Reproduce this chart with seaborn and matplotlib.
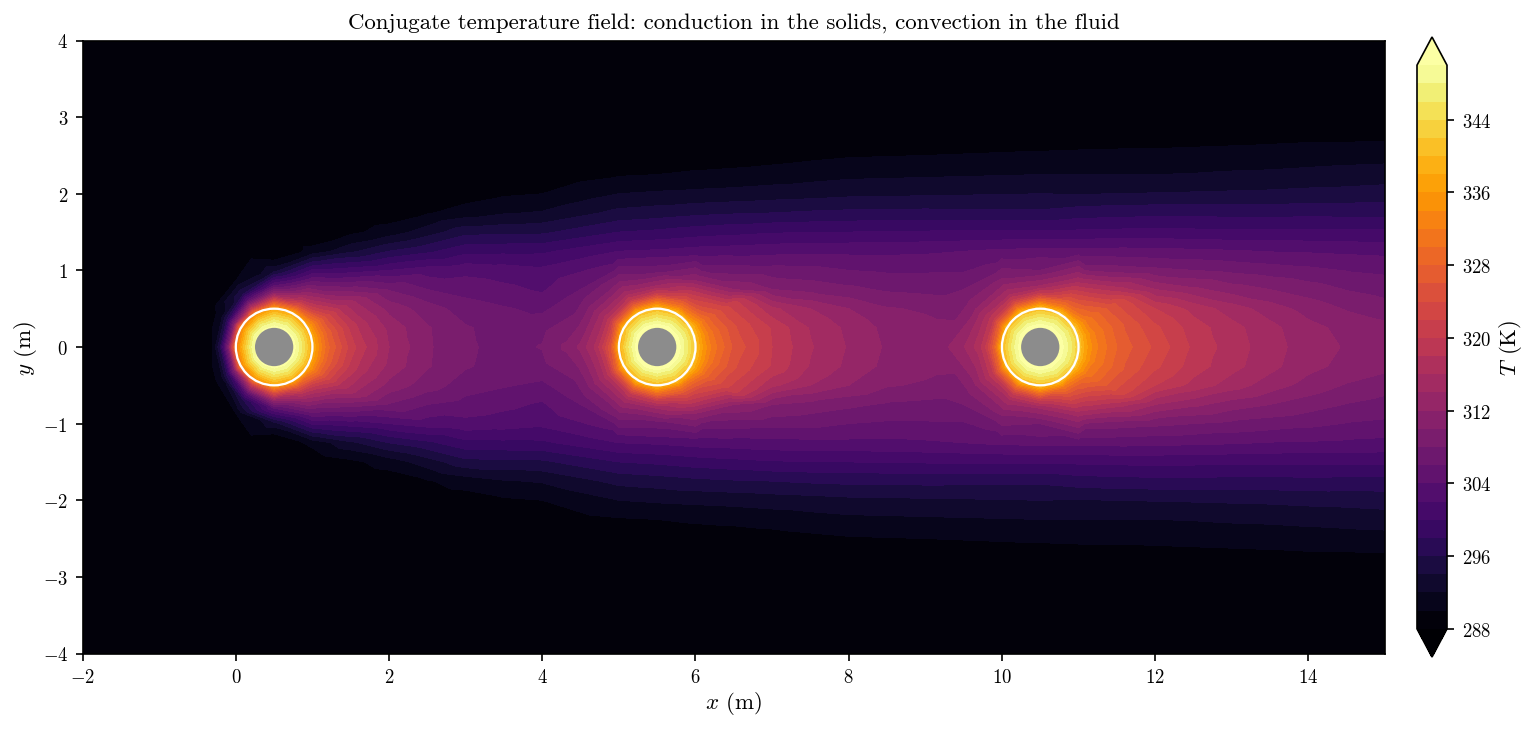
import numpy as np
import matplotlib
matplotlib.use("Agg")
import matplotlib.pyplot as plt
from matplotlib.patches import Circle
import seaborn as sns

# ── Data ──────────────────────────────────────────────────────────────────────
nan = np.nan
levels = list(range(288, 351, 2))
cbar_ticks = [288, 296, 304, 312, 320, 328, 336, 344]
x_ticks = [-2, 0, 2, 4, 6, 8, 10, 12, 14]
y_ticks = [-4, -3, -2, -1, 0, 1, 2, 3, 4]
centres = [0.5, 5.5, 10.5]
r_solid = 0.25
r_ring = 0.5

# far field, upper half (it is mirrored in y)
grid_y = [0, .25, .5, .75, 1, 1.25, 1.5, 1.75, 2, 2.25, 2.5, 2.75, 3, 4]
grid_x = [-2, -1, -.5, 0, .5, 1, 1.5, 2, 2.5, 3, 3.5, 4, 4.5, 5, 5.5, 6, 6.5, 7, 7.5, 8, 8.5,
          9, 9.5, 10, 10.5, 11, 11.5, 12, 12.5, 13, 13.5, 14, 14.5, 15]
T_m2 = [288, 288, 288, 288, 288, 288, 288, 288, 288, 288, 288, 288, 288, 288]
T_m1 = [288, 288, 288, 288, 288, 288, 288, 288, 288, 288, 288, 288, 288, 288]
T_m05 = [nan, nan, nan, 288, 288, 288, 288, 288, 288, 288, 288, 288, 288, 288]
T_0 = [nan, nan, nan, nan, nan, 288, 288, 288, 288, 288, 288, 288, 288, 288]
T_05 = [nan, nan, nan, nan, nan, 288.2, 288, 288, 288, 288, 288, 288, 288, 288]
T_1 = [nan, nan, nan, nan, nan, 290.6, 288.4, 288, 288, 288, 288, 288, 288, 288]
T_15 = [nan, nan, nan, 309, 301, 293.5, 289.5, 288.3, 288, 288, 288, 288, 288, 288]
T_2 = [314, 313.4, 311.3, 307.8, 302, 296, 290.9, 288.8, 288.2, 288, 288, 288, 288, 288]
T_25 = [310.3, 310.2, 309, 306, 303, 297.5, 293, 289.8, 288.7, 288.2, 288, 288, 288, 288]
T_3 = [308.3, 308.2, 307, 305.2, 303.4, 299.4, 295.3, 290.9, 289, 288.3, 288, 288, 288, 288]
T_35 = [307.4, 307.2, 306.2, 304.5, 303, 299.5, 295.5, 291.8, 289.7, 288.7, 288, 288, 288, 288]
T_4 = [308.1, 307.5, 305.5, 303.7, 302.5, 299.6, 295.6, 292.2, 290, 288.8, 288.2, 288, 288, 288]
T_45 = [nan, nan, nan, 306, 303.8, 300.8, 296.8, 293.4, 291, 289.4, 288.4, 288, 288, 288]
T_5 = [nan, nan, nan, nan, nan, 302, 298, 294.6, 292, 289.8, 288.6, 288, 288, 288]
T_55 = [nan, nan, nan, nan, nan, 302.3, 298.4, 295, 292.3, 290, 288.7, 288.1, 288, 288]
T_6 = [nan, nan, nan, nan, nan, 302.8, 299, 295.5, 292.5, 290.3, 288.9, 288.2, 288, 288]
T_65 = [nan, nan, nan, 312, 307, 303, 299.4, 295.8, 292.7, 290.5, 289, 288.3, 288, 288]
T_7 = [320, 319.7, 316.5, 310, 306.8, 303.3, 299.8, 296, 293, 290.8, 289.2, 288.4, 288, 288]
T_75 = [316.2, 315.8, 314, 309.3, 306.6, 303.4, 299.9, 296.3, 293.2, 291.2, 289.5, 288.5, 288, 288]
T_8 = [313.8, 313.5, 312, 308.5, 306, 303.5, 300, 296.5, 293.5, 291.5, 289.8, 288.6, 288, 288]
T_85 = [311.7, 311.4, 310.2, 307.7, 305.7, 303.5, 300.1, 296.5, 293.6, 291.6, 289.9, 288.7, 288.2, 288]
T_9 = [311, 310.7, 309.7, 307.4, 305.7, 303.7, 300.2, 296.6, 293.7, 291.7, 290, 288.8, 288.3, 288]
T_95 = [nan, nan, nan, 308, 305.8, 304, 300.3, 296.5, 293.8, 291.8, 290.1, 288.8, 288.3, 288]
T_10 = [nan, nan, nan, nan, nan, 304.4, 300.3, 296.5, 293.9, 291.9, 290.2, 288.9, 288.3, 288]
T_105 = [nan, nan, nan, nan, nan, 304.6, 300.4, 296.5, 294, 292, 290.3, 288.9, 288.3, 288]
T_11 = [nan, nan, nan, nan, nan, 304.7, 300.4, 297, 293.9, 292, 290.4, 289, 288.4, 288]
T_115 = [nan, nan, nan, 317, 309, 304.7, 300.5, 297.2, 294, 292, 290.5, 289, 288.4, 288]
T_12 = [323.5, 322.5, 320, 314, 308.5, 304.6, 300.6, 297.4, 294.1, 292, 290.5, 289.1, 288.4, 288]
T_125 = [319.6, 319, 317.3, 312.5, 308, 304.4, 300.5, 297.4, 294.2, 292.1, 290.6, 289.2, 288.5, 288]
T_13 = [317, 316.7, 315, 311, 307.5, 304.2, 300.4, 297.3, 294.3, 292.3, 290.7, 289.3, 288.5, 288]
T_135 = [314.9, 314.6, 313, 310, 307, 303.9, 300.4, 297.3, 294.4, 292.4, 290.8, 289.4, 288.5, 288]
T_14 = [312.9, 312.6, 311.2, 309, 306.5, 303.8, 300.4, 297.4, 294.6, 292.6, 291, 289.5, 288.5, 288]
T_145 = [311.8, 311.4, 309.8, 307.9, 305.9, 303.6, 300.4, 297.3, 294.7, 292.8, 291.1, 289.5, 288.6, 288]
T_15m = [311, 310.6, 308.9, 307.2, 305.6, 303.4, 300.4, 297.3, 294.9, 293, 291.2, 289.6, 288.6, 288]
grid_T = [T_m2, T_m1, T_m05, T_0, T_05, T_1, T_15, T_2, T_25, T_3, T_35, T_4, T_45, T_5, T_55,
          T_6, T_65, T_7, T_75, T_8, T_85, T_9, T_95, T_10, T_105, T_11, T_115, T_12, T_125,
          T_13, T_135, T_14, T_145, T_15m]

# near field of each cylinder: rows are angles from downstream, columns radii
near_r = [.25, .3, .4, .5, .55, .6, .7, .8, 1.0, 1.2]
near_deg = [0, 15, 30, 60, 90, 120, 150, 180]
near_1 = [
    [351, 349, 344, 338, 335.5, 333, 328.5, 326, 321, 318],
    [351, 349, 344, 338, 335.3, 332.6, 328, 325, 320, 316.5],
    [351, 349, 344, 338, 335, 332, 327, 323, 317.5, 314],
    [351, 349, 344, 337.5, 332, 326, 318, 313, 305.5, 299],
    [351, 349, 343.5, 337, 330, 324, 312, 304, 293, 288.5],
    [350.5, 348.5, 342, 333, 324, 316, 304, 296, 290, 288],
    [350.5, 348, 341, 332, 322, 310, 297, 291, 288.3, 288],
    [350, 347.5, 340, 331, 321, 309, 296, 290, 288.2, 288],
]
near_2 = [
    [351, 350, 346, 341, 338, 335.5, 332, 329.5, 325.5, 323.5],
    [351, 350, 346, 341, 338, 335.3, 331.2, 328.6, 324.8, 322.3],
    [351, 350, 346, 341, 338, 335, 330, 327, 323, 320],
    [351, 350, 345.5, 340.5, 336, 331, 325, 320, 312, 306.5],
    [351, 350, 345, 340, 335, 330, 320, 314, 307, 303.5],
    [351, 350, 345, 340, 335, 329, 320, 315, 309.5, 304.5],
    [351, 350, 345, 340, 334, 328, 319.5, 315.5, 310.5, 307],
    [351, 349.5, 344.5, 338, 332, 326, 320.5, 316.5, 312.5, 310.4],
]
near_3 = [
    [351, 350, 346.5, 342, 339, 336.5, 333, 331, 328, 326],
    [351, 350, 346.5, 342, 339, 336.3, 332.5, 330.7, 327.5, 325],
    [351, 350, 346.5, 341.5, 338.5, 335.5, 331, 329.5, 326, 323],
    [351, 350, 346, 341, 336.5, 331.5, 326, 322, 315, 308.5],
    [351, 350, 345.5, 340.5, 335.5, 330, 320, 314, 308, 305.6],
    [351, 350, 345.5, 340.5, 335.5, 329.5, 320.5, 315.5, 310.5, 306.5],
    [351, 350, 345.5, 340.5, 334.5, 328.5, 320, 316.5, 311.5, 308.5],
    [351, 349.5, 345, 339.5, 333.5, 327.5, 320.5, 317, 313.8, 312],
]

# ── Settings ──────────────────────────────────────────────────────────────────
sns.set_theme(style="ticks")
plt.rcParams.update({
    "font.family": "cmr10",
    "mathtext.fontset": "cm",
    "axes.formatter.use_mathtext": True,
    "axes.unicode_minus": True,
    "font.size": 10,
    "axes.linewidth": 0.8,
    "xtick.color": "black",
    "ytick.color": "black",
    "text.color": "black",
    "axes.labelcolor": "black",
    "axes.edgecolor": "black",
})
cmap = sns.color_palette("inferno", as_cmap=True)

# ── Collect the points ────────────────────────────────────────────────────────
xs, ys, ts = [], [], []


def add_point(x, y, t):
    xs.append(x)
    ys.append(y)
    ts.append(t)
    if y > 1e-9:
        xs.append(x)
        ys.append(-y)
        ts.append(t)


for gx, col in zip(grid_x, grid_T):
    for gy, t in zip(grid_y, col):
        if np.isfinite(t):
            add_point(gx, gy, t)

for cx, table in zip(centres, [near_1, near_2, near_3]):
    for deg, row in zip(near_deg, table):
        ang = np.deg2rad(deg)
        for r, t in zip(near_r, row):
            add_point(cx + r * np.cos(ang), abs(r * np.sin(ang)), t)

# ── Figure ────────────────────────────────────────────────────────────────────
W, H = 1535, 730
fig = plt.figure(figsize=(W / 150, H / 150), dpi=150)
ax = fig.add_axes([82.6 / W, (H - 654.5) / H, 1302.4 / W, 613 / H])
cax = fig.add_axes([1417 / W, (H - 658) / H, 30 / W, 620 / H])

cf = ax.tricontourf(xs, ys, ts, levels=levels, cmap=cmap, extend="both")
for cx in centres:
    ax.add_patch(Circle((cx, 0), r_solid, facecolor="#8c8c8c", edgecolor="none", zorder=3))
    ax.add_patch(Circle((cx, 0), r_ring, facecolor="none", edgecolor="white", lw=1.1, zorder=4))

ax.set_xlim(-2, 15)
ax.set_ylim(-4, 4)
ax.set_xticks(x_ticks)
ax.set_yticks(y_ticks)
ax.tick_params(length=3.5, width=0.8, labelsize=9, pad=3.5)
ax.set_xlabel("$x$ (m)", fontsize=11, labelpad=1.6)
ax.set_ylabel("$y$ (m)", fontsize=11, labelpad=1.6)
ax.set_title("Conjugate temperature field: conduction in the solids, convection in the fluid",
             fontsize=11, pad=6)

cb = fig.colorbar(cf, cax=cax, ticks=cbar_ticks)
cb.ax.tick_params(length=3.5, width=0.8, labelsize=9, pad=3.5)
cb.set_label("$T$ (K)", fontsize=11, labelpad=3)
cb.outline.set_linewidth(0.8)

fig.savefig("out.png", dpi=150)
